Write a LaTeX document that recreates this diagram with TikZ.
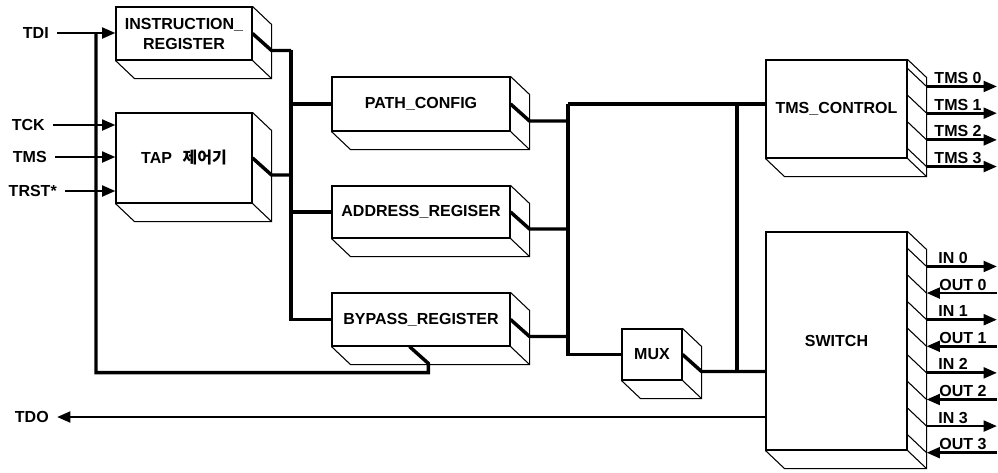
\documentclass[tikz,border=0pt]{standalone}
\usepackage{fontspec}
\setmainfont{Liberation Sans}
\newfontfamily\kor{Noto Sans CJK KR}
\usetikzlibrary{arrows.meta,calc}
\tikzset{
  blk/.style={draw, line width=0.8pt, inner sep=2pt, align=center},
  face/.style={line width=0.8pt},
  bus/.style={line width=2.6pt},
  sig/.style={line width=2.1pt},
  tip/.style={-{Triangle[length=10pt,width=8pt]}},
  pin/.style={anchor=east, inner xsep=6pt},
  lbl/.style={anchor=base west, inner sep=2pt},
}
\begin{document}
\begin{tikzpicture}[x=0.75pt, y=-0.75pt, font={\fontsize{12}{15}\selectfont\bfseries}]
  \useasboundingbox (0,0) rectangle (998,472);

  % register blocks (front faces)
  \node[blk, minimum width=102pt, minimum height=39.75pt] (ir) at (184,33.5) {INSTRUCTION\_\\REGISTER};
  \node[blk, minimum width=102pt, minimum height=67.5pt] (tap) at (184,158) {TAP\hspace{8pt}{\kor 제어기}};
  \node[blk, minimum width=133.5pt, minimum height=40.5pt] (path) at (421,104) {PATH\_CONFIG};
  \node[blk, minimum width=133.5pt, minimum height=39pt] (addr) at (421,212) {ADDRESS\_REGISER};
  \node[blk, minimum width=133.5pt, minimum height=39.75pt] (byp) at (421,319.5) {BYPASS\_REGISTER};
  \node[blk, minimum width=45pt, minimum height=38.25pt] (mux) at (652,354.5) {MUX};
  \node[blk, minimum width=105.75pt, minimum height=73.5pt] (tmsc) at (836.5,109) {TMS\_CONTROL};
  \node[blk, minimum width=105.75pt, minimum height=163.5pt] (sw) at (836.5,341) {SWITCH};

  % side and bottom faces
  \foreach \b in {ir,tap,path,addr,byp,mux,tmsc,sw} {
    \draw[face] (\b.north east) -- ++(19,18) |- ($(\b.south west)+(19,18)$) -- (\b.south west)
                (\b.south east) -- ++(19,18);
  }

  % outer pins
  \node[pin] (tdi) at (57,33) {TDI};
  \node[pin] (tck) at (53,125) {TCK};
  \node[pin] (tms) at (55,157) {TMS};
  \node[pin] (trst) at (65,191) {TRST*};
  \node[pin] (tdo) at (57,417) {TDO};
  \coordinate (rim) at (997,0);

  \draw[sig,tip] (tdi.east) -- (tdi.east -| ir.west);
  \foreach \p in {tck,tms,trst}
    \draw[sig,tip] (\p.east) -- (\p.east -| tap.west);
  \draw[sig,tip] (tdo.east -| sw.west) -- (tdo.east);

  % TDI feed to bypass
  \coordinate (tdiJ) at (96,33);
  \draw[bus] ($(byp.south west)+(78,0)$) -- ++(19,17) -- ++(0,9) -| (tdiJ);

  % left bus
  \coordinate (busL) at (291,50);
  \draw[bus] (ir.east) -- ++(19,17) -| (busL);
  \draw[bus] (tap.east) -- ++(19,17) -| (busL);
  \draw[bus] (busL) |- (path.west);
  \draw[bus] (busL) |- (addr.west);
  \draw[bus] (busL) |- (byp.west);

  % right bus
  \coordinate (busR) at (568,104);
  \draw[bus] (path.east) -- ++(19,17) -| (busR);
  \draw[bus] (addr.east) -- ++(19,17) -| (busR);
  \draw[bus] (byp.east) -- ++(19,17) -| (busR);
  \draw[bus] (busR) |- (mux.west);
  \draw[bus] (busR) -- (busR -| tmsc.west);

  % mux output
  \coordinate (busM) at (737,104);
  \draw[bus] (mux.east) -- ++(19,17) coordinate (muxo) -- (muxo -| sw.west);
  \draw[bus] (busM) -- (busM |- muxo);

  % TMS outputs
  \foreach \k in {0,...,3} {
    \draw[face] ($(tmsc.north east)+(0,9+26.7*\k)$) -- ++(19,18) coordinate (tq\k);
    \draw[sig,tip] (tq\k) -- (tq\k -| rim);
    \node[lbl] (tl\k) at ($(tq\k)+(5,-3)$) {TMS \k};
  }

  % switch ports
  \foreach \k in {0,...,3} {
    \draw[face] ($(sw.north east)+(0,17+53.2*\k)$) -- ++(19,18) coordinate (si\k);
    \draw[sig,tip] (si\k) -- (si\k -| rim);
    \node[lbl] (il\k) at ($(si\k)+(9,-3)$) {IN \k};
    \draw[face] ($(sw.north east)+(0,43.6+53.2*\k)$) -- ++(19,18) coordinate (so\k);
    \draw[sig,tip] (so\k -| rim) -- (so\k);
    \node[lbl] (ol\k) at ($(so\k)+(10,-3)$) {OUT \k};
  }
\end{tikzpicture}
\end{document}
